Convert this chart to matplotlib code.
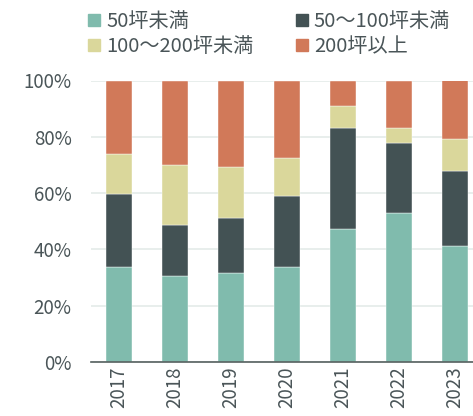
import numpy as np
import matplotlib.pyplot as plt
from matplotlib.patches import Patch
from matplotlib.ticker import PercentFormatter

plt.rcParams['font.family'] = ['Noto Sans CJK JP', 'DejaVu Sans']

years = ['2017', '2018', '2019', '2020', '2021', '2022', '2023']
labels = ['50坪未満', '50～100坪未満', '100～200坪未満', '200坪以上']
# shares in %
s50 = [33.8, 30.5, 31.7, 33.8, 47.4, 52.8, 41.1]
s100 = [25.9, 18.0, 19.6, 25.3, 35.7, 25.1, 26.9]
s200 = [14.3, 21.6, 17.8, 13.3, 7.7, 5.1, 11.2]
s_over = [26.0, 29.9, 30.9, 27.6, 9.2, 17.0, 20.8]

colors = ['#80bbad', '#435254', '#dad79b', '#d17959']
txt = '#4a5558'

fig = plt.figure(figsize=(4.73, 4.16), dpi=100)
ax = fig.add_axes([91/473, 54/416, (473-91)/473, (362-80.5)/416])

x = np.arange(len(years))
bottom = np.zeros(len(years))
for vals, c in zip([s50, s100, s200, s_over], colors):
    ax.bar(x, vals, 0.476, bottom=bottom, color=c, zorder=2,
           edgecolor='white', linewidth=0.3)
    bottom += np.array(vals)

ax.set_ylim(0, 100)
ax.set_xlim(-0.5, 6.32)
ax.set_yticks(np.arange(0, 101, 20))
ax.yaxis.set_major_formatter(PercentFormatter(decimals=0))
ax.set_xticks(x)
ax.set_xticklabels(years, rotation=90)
ax.grid(axis='y', color='#e4ebe9', linewidth=1.2, zorder=0)
for s in ['top', 'right', 'left']:
    ax.spines[s].set_visible(False)
ax.spines['bottom'].set_color('#55605f')
ax.spines['bottom'].set_linewidth(1.2)
ax.spines['bottom'].set_zorder(3)
ax.tick_params(length=0, labelsize=13.5, colors=txt, pad=3)
ax.tick_params(axis='y', pad=14)

# legend filled row-wise like the original
order = [0, 2, 1, 3]
handles = [Patch(color=colors[i]) for i in order]
fig.legend(handles, [labels[i] for i in order], ncol=2, loc='upper left',
           bbox_to_anchor=(84/473, 1 - 7/416), frameon=False, fontsize=14.5,
           handlelength=0.6, handleheight=0.6, handletextpad=0.3,
           columnspacing=2.1, labelspacing=0.2, labelcolor=txt,
           borderaxespad=0.0, borderpad=0.2)

fig.savefig('out.png', dpi=100)
